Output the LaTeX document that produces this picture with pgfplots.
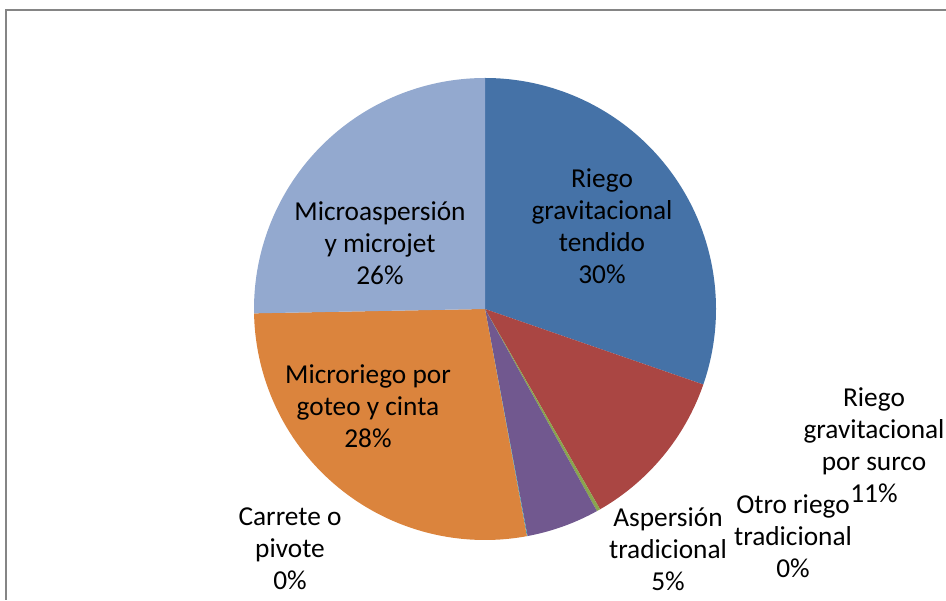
\documentclass[border=0pt]{standalone}
\usepackage{pgfplots}
\pgfplotsset{compat=1.18}
\usepackage{pgfplotstable}
\usepackage{fontspec}
\setmainfont{Carlito}

\definecolor{c0}{HTML}{4572A7}
\definecolor{c1}{HTML}{AA4643}
\definecolor{c2}{HTML}{89A54E}
\definecolor{c3}{HTML}{71588F}
\definecolor{c4}{HTML}{4198AF}
\definecolor{c5}{HTML}{DB843D}
\definecolor{c6}{HTML}{93A9CF}

\pgfplotstableread[col sep=comma]{
name,value
Riego gravitacional tendido,30.3
Riego gravitacional por surco,11.4
Otro riego tradicional,0.25
Aspersion tradicional,5.1
Carrete o pivote,0.05
Microriego por goteo y cinta,27.6
Microaspersion y microjet,25.3
}\piedata

% cumulative angles from the data table
\def\tot{0}%
\pgfplotsforeachungrouped \i in {0,...,6}{%
  \pgfplotstablegetelem{\i}{value}\of\piedata
  \pgfmathsetmacro\tot{\tot+\pgfplotsretval}%
  \xdef\tot{\tot}%
}%
\def\cum{0}%
\pgfplotsforeachungrouped \i in {0,...,6}{%
  \pgfplotstablegetelem{\i}{value}\of\piedata
  \pgfmathsetmacro\sa{90-\cum/\tot*360}%
  \pgfmathsetmacro\cum{\cum+\pgfplotsretval}%
  \xdef\cum{\cum}%
  \pgfmathsetmacro\ea{90-\cum/\tot*360}%
  \expandafter\xdef\csname sa\i\endcsname{\sa}%
  \expandafter\xdef\csname ea\i\endcsname{\ea}%
}%

\begin{document}%
\begin{tikzpicture}[x=0.75pt,y=0.75pt]
\useasboundingbox (0,0) rectangle (946,600);
\fill[white] (0,0) rectangle (946,600);
\draw[color=black!48, line width=1.6pt] (946,590) -- (6,590) -- (6,0);
\begin{axis}[x=0.75pt, y=0.75pt, xmin=0, xmax=946, ymin=0, ymax=600,
  hide axis, clip=false, anchor=south west, at={(0,0)}]
\pgfplotsinvokeforeach{0,...,6}{%
  \fill[c#1] (axis cs:485,291) -- ++(\csname sa#1\endcsname:173.25pt)
    arc[start angle=\csname sa#1\endcsname, end angle=\csname ea#1\endcsname, radius=173.25pt] -- cycle;
}
\tikzset{lbl/.style={align=center, text=black, font=\fontsize{20.5}{24}\selectfont}}
\node[lbl] at (axis cs:602,374) {Riego\\gravitacional\\tendido\\30\%};
\node[lbl] at (axis cs:380,357) {Microaspersión\\y microjet\\26\%};
\node[lbl] at (axis cs:368,194) {Microriego por\\goteo y cinta\\28\%};
\node[lbl] at (axis cs:874,155) {Riego\\gravitacional\\por surco\\11\%};
\node[lbl] at (axis cs:793,64) {Otro riego\\tradicional\\0\%};
\node[lbl] at (axis cs:668,51) {Aspersión\\tradicional\\5\%};
\node[lbl] at (axis cs:290,51) {Carrete o\\pivote\\0\%};
\end{axis}
\end{tikzpicture}%
\end{document}
